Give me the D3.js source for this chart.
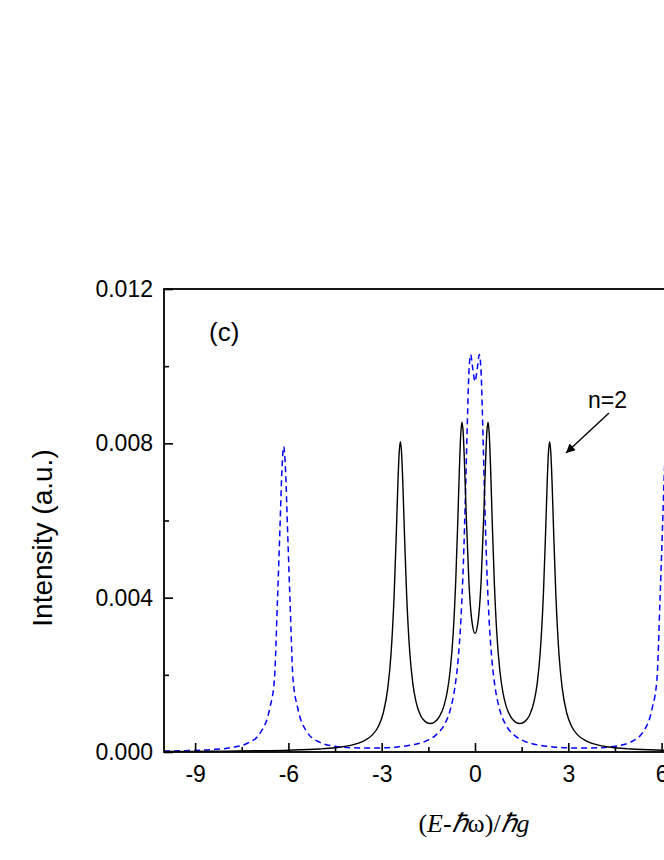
<!DOCTYPE html>
<html>
<head>
<meta charset="utf-8">
<script src="https://cdn.jsdelivr.net/npm/d3@7/dist/d3.min.js"></script>
<style>
  html, body { margin: 0; padding: 0; background: #fff; }
  svg { display: block; }
</style>
</head>
<body>
<svg id="chart" width="664" height="860"></svg>
<script>
// ---- data ----
const xMajorTicks = [-9, -6, -3, 0, 3, 6, 9];
const xMinorTicks = [-7.5, -4.5, -1.5, 1.5, 4.5, 7.5];
const yMajorTicks = [0, 0.004, 0.008, 0.012];
const yMinorTicks = [0.002, 0.006, 0.010];
const yTickLabels = ["0.000", "0.004", "0.008", "0.012"];

// black solid curve
const blackX = [-10, -9, -8, -7, -6, -5, -4.5, -4, -3.6, -3.3, -3.1, -2.95, -2.8, -2.7, -2.6, -2.54, -2.48, -2.44, -2.4, -2.36, -2.32, -2.26, -2.2, -2.1, -2, -1.9, -1.75, -1.6, -1.45, -1.3, -1.15, -1, -0.9, -0.8, -0.7, -0.62, -0.56, -0.5, -0.46, -0.42, -0.38, -0.34, -0.28, -0.2, -0.1,
  0,
  0.1, 0.2, 0.28, 0.34, 0.38, 0.42, 0.46, 0.5, 0.56, 0.62, 0.7, 0.8, 0.9, 1, 1.15, 1.3, 1.45, 1.6, 1.75, 1.9, 2, 2.1, 2.2, 2.26, 2.32, 2.36, 2.4, 2.44, 2.48, 2.54, 2.6, 2.7, 2.8, 2.95, 3.1, 3.3, 3.6, 4, 4.5, 5, 6, 7, 8, 9, 10];
const blackY = [0.0000137, 0.0000175, 0.000023, 0.000032, 0.000047, 0.000078, 0.00011, 0.000171, 0.000274, 0.000443, 0.000676, 0.00101, 0.00168, 0.00254, 0.00407, 0.00542, 0.00694, 0.00773, 0.00804, 0.00774, 0.00695, 0.00545, 0.00411, 0.00261, 0.00178, 0.00131, 0.000945, 0.000787, 0.000737, 0.000776, 0.00091, 0.00119, 0.00153, 0.00210, 0.00309, 0.00442, 0.00582, 0.00738, 0.00821, 0.00855, 0.00828, 0.00753, 0.00609, 0.00448, 0.00339,
  0.00307,
  0.00339, 0.00448, 0.00609, 0.00753, 0.00828, 0.00855, 0.00821, 0.00738, 0.00582, 0.00442, 0.00309, 0.00210, 0.00153, 0.00119, 0.00091, 0.000776, 0.000737, 0.000787, 0.000945, 0.00131, 0.00178, 0.00261, 0.00411, 0.00545, 0.00695, 0.00774, 0.00804, 0.00773, 0.00694, 0.00542, 0.00407, 0.00254, 0.00168, 0.00101, 0.000676, 0.000443, 0.000274, 0.000171, 0.00011, 0.000078, 0.000047, 0.000032, 0.000023, 0.0000175, 0.0000137];

// blue dashed curve
const blueX = [-10, -9.2, -8.5, -7.8, -7.3, -6.9, -6.6, -6.45, -6.35, -6.27, -6.21, -6.15, -6.09, -6.03, -5.95, -5.85, -5.7, -5.4, -5, -4.5, -4, -3.5, -3, -2.5, -2, -1.55, -1.25, -1, -0.8, -0.65, -0.55, -0.45, -0.375, -0.3, -0.25, -0.2, -0.14, -0.07,
  0,
  0.07, 0.14, 0.2, 0.25, 0.3, 0.375, 0.45, 0.55, 0.65, 0.8, 1, 1.25, 1.55, 2, 2.5, 3, 3.5, 4, 4.5, 5, 5.4, 5.7, 5.85, 5.95, 6.03, 6.09, 6.15, 6.21, 6.27, 6.35, 6.45, 6.6, 6.9, 7.3, 7.8, 8.5, 9.2, 10];
const blueY = [0.000025, 0.000038, 0.000062, 0.00012, 0.000233, 0.0005, 0.00113, 0.00188, 0.00397, 0.00583, 0.00727, 0.00792, 0.00727, 0.00583, 0.00397, 0.00188, 0.00114, 0.000516, 0.000254, 0.000148, 0.000111, 0.000101, 0.000108, 0.000132, 0.000187, 0.000294, 0.000444, 0.00069, 0.00108, 0.00166, 0.00233, 0.00348, 0.00486, 0.00687, 0.00843, 0.00976, 0.0103, 0.00992,
  0.00960,
  0.00992, 0.0103, 0.00976, 0.00843, 0.00687, 0.00486, 0.00348, 0.00233, 0.00166, 0.00108, 0.00069, 0.000444, 0.000294, 0.000187, 0.000132, 0.000108, 0.000101, 0.000111, 0.000148, 0.000254, 0.000516, 0.00114, 0.00188, 0.00397, 0.00583, 0.00727, 0.00792, 0.00727, 0.00583, 0.00397, 0.00188, 0.00113, 0.0005, 0.000233, 0.00012, 0.000062, 0.000038, 0.000025];

// ---- drawing ----
const svg = d3.select("#chart");
const plotL = 164, plotR = 786, plotT = 289, plotB = 752;
const x = d3.scaleLinear().domain([-10, 10]).range([plotL, plotR]);
const y = d3.scaleLinear().domain([0, 0.012]).range([plotB, plotT]);

const sans = "'Liberation Sans', Arial, Helvetica, sans-serif";
const serif = "'Liberation Serif', 'Times New Roman', Times, serif";

// curves
const line = d3.line().x(d => x(d[0])).y(d => y(d[1])).curve(d3.curveMonotoneX);
const black = blackX.map((v, i) => [v, blackY[i]]);
const blue = blueX.map((v, i) => [v, blueY[i]]);

svg.append("path").datum(blue)
  .attr("d", line).attr("fill", "none")
  .attr("stroke", "#0000ff").attr("stroke-width", 1.5)
  .attr("stroke-dasharray", "6,4");
svg.append("path").datum(black)
  .attr("d", line).attr("fill", "none")
  .attr("stroke", "#000").attr("stroke-width", 1.4);

// x axis
const gx = svg.append("g").attr("transform", `translate(0,${plotB})`)
  .call(d3.axisBottom(x).tickValues(xMajorTicks).tickSize(-9).tickPadding(14).tickFormat(d => String(d)));
gx.select(".domain").remove();
gx.selectAll("line").attr("stroke-width", 1.6);
gx.selectAll("text").attr("font-family", sans).attr("font-size", 23).attr("fill", "#000");
const gxm = svg.append("g").attr("transform", `translate(0,${plotB})`)
  .call(d3.axisBottom(x).tickValues(xMinorTicks).tickSize(-5).tickFormat(""));
gxm.select(".domain").remove();
gxm.selectAll("line").attr("stroke-width", 1.6);

// y axis
const gy = svg.append("g").attr("transform", `translate(${plotL},0)`)
  .call(d3.axisLeft(y).tickValues(yMajorTicks).tickSize(-9).tickPadding(11).tickFormat((d, i) => yTickLabels[i]));
gy.select(".domain").remove();
gy.selectAll("line").attr("stroke-width", 1.6);
gy.selectAll("text").attr("font-family", sans).attr("font-size", 23).attr("fill", "#000");
const gym = svg.append("g").attr("transform", `translate(${plotL},0)`)
  .call(d3.axisLeft(y).tickValues(yMinorTicks).tickSize(-5).tickFormat(""));
gym.select(".domain").remove();
gym.selectAll("line").attr("stroke-width", 1.6);

// frame
svg.append("rect").attr("x", plotL).attr("y", plotT)
  .attr("width", plotR - plotL).attr("height", plotB - plotT)
  .attr("fill", "none").attr("stroke", "#000").attr("stroke-width", 1.8);

// y title
svg.append("text")
  .attr("transform", "translate(52,538) rotate(-90)")
  .attr("text-anchor", "middle")
  .attr("font-family", sans).attr("font-size", 28)
  .text("Intensity (a.u.)");

// x title
const xt = svg.append("text").attr("x", 474).attr("y", 832)
  .attr("text-anchor", "middle").attr("font-family", serif).attr("font-size", 26);
xt.append("tspan").text("(");
xt.append("tspan").attr("font-style", "italic").text("E");
xt.append("tspan").text("-");
xt.append("tspan").attr("font-style", "italic").text("\u210F");
xt.append("tspan").text("\u03C9)/");
xt.append("tspan").attr("font-style", "italic").text("\u210F");
xt.append("tspan").attr("font-style", "italic").text("g");

// panel label
svg.append("text").attr("x", 209).attr("y", 341)
  .attr("font-family", sans).attr("font-size", 26).text("(c)");

// annotation
svg.append("text").attr("x", 588).attr("y", 408)
  .attr("font-family", sans).attr("font-size", 23).text("n=2");
svg.append("defs").append("marker")
  .attr("id", "arr").attr("viewBox", "0 0 10 10")
  .attr("refX", 10).attr("refY", 5)
  .attr("markerWidth", 12).attr("markerHeight", 9)
  .attr("markerUnits", "userSpaceOnUse")
  .attr("orient", "auto")
  .append("path").attr("d", "M0,0 L10,5 L0,10 Z").attr("fill", "#000");
svg.append("line")
  .attr("x1", 609).attr("y1", 413).attr("x2", 566).attr("y2", 453)
  .attr("stroke", "#000").attr("stroke-width", 1.4)
  .attr("marker-end", "url(#arr)");
</script>
</body>
</html>
